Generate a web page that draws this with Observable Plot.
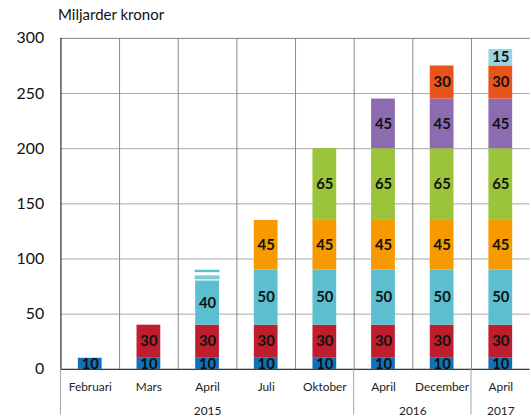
<!DOCTYPE html>
<html><head><meta charset="utf-8">
<script src="https://cdn.jsdelivr.net/npm/d3@7"></script>
<script src="https://cdn.jsdelivr.net/npm/@observablehq/plot@0.6"></script>
<style>
body{margin:0;background:#fff;font-family:Lato,sans-serif;}
#wrap{position:relative;width:531px;height:418px;overflow:hidden;background:#fff;}
#sub{position:absolute;left:58px;top:5px;font-size:15px;line-height:18px;color:#111;white-space:nowrap;}
#chart{position:absolute;left:0;top:28px;}
</style></head><body>
<div id="wrap"><div id="sub">Miljarder kronor</div><div id="chart"></div></div>
<script>
// categories
const months = ["Februari","Mars","April","Juli","Oktober","April","December","April"];
const years = ["2015","2016","2017"];
const yearFirst = [0,5,7];
const yearLast = [4,6,7];
// series (stacked from bottom)
const sBlue   = [10,10,10,10,10,10,10,10];
const sRed    = [0,30,30,30,30,30,30,30];
const sCyan   = [0,0,40,50,50,50,50,50];
const sOrange = [0,0,0,45,45,45,45,45];
const sGreen  = [0,0,0,0,65,65,65,65];
const sPurple = [0,0,0,0,0,45,45,45];
const sRedOr  = [0,0,0,0,0,0,30,30];
const sPale   = [0,0,0,0,0,0,0,15];
const seriesList = [sBlue,sRed,sCyan,sOrange,sGreen,sPurple,sRedOr,sPale];
const seriesColors = ["#1270b8","#be1e2d","#5bbfd0","#f79a00","#9bc43b","#8c6bb1","#e8541c","#9dd3df"];
// striped extension on April 2015
const stripeCat = [2,2];
const stripeLow = [81.1,87.6];
const stripeHigh = [84.7,89.8];
const stripeColors = ["#7ccbd8","#5bbfd0"];
const yTicks = [0,50,100,150,200,250,300];
const yGrid = [50,100,150,200,250];

const segs = [];
months.forEach((m,i)=>{
  let base = 0;
  seriesList.forEach((s,k)=>{
    const v = s[i];
    if (v>0){ segs.push({i, y1:base, y2:base+v, v, color:seriesColors[k]}); base += v; }
  });
});
const stripes = stripeCat.map((c,k)=>({i:c, y1:stripeLow[k], y2:stripeHigh[k], color:stripeColors[k]}));

const W = 536, H = 390;
const half = 0.2025;
const plot = Plot.plot({
  width: W, height: H,
  marginLeft: 61, marginRight: 1.4, marginTop: 10, marginBottom: 46,
  x: {type:"linear", domain:[0,8], axis:null},
  y: {domain:[0,300], axis:null},
  color: {type:"identity"},
  style: {fontFamily:"Lato, sans-serif", background:"white", color:"#111", overflow:"visible"},
  marks: [
    Plot.ruleY(yGrid, {stroke:"#a6a6a6"}),
    Plot.ruleY([300], {stroke:"#7f7f7f"}),
    Plot.ruleX(d3.range(1,8), {stroke:"#8a8a8a"}),
    Plot.rect(segs, {x1:d=>d.i+0.5-half, x2:d=>d.i+0.5+half, y1:"y1", y2:"y2", fill:"color"}),
    Plot.rect(stripes, {x1:d=>d.i+0.5-half-0.01, x2:d=>d.i+0.5+half+0.01, y1:"y1", y2:"y2", fill:"color"}),
    Plot.text(segs, {x:d=>d.i+0.5, y:d=>(d.y1+d.y2)/2, text:d=>String(d.v), fontWeight:"bold", fontSize:15, fill:"#111"}),
    Plot.ruleY([0], {stroke:"black"}),
    Plot.ruleX([0], {stroke:"black"}),
    Plot.axisY({ticks:yTicks, tickSize:0, tickPadding:17, fontSize:16, tickFormat:d=>String(d)}),
    Plot.text(months, {x:(d,i)=>i+0.5, y:0, dy:18, fontSize:12, fill:"#222"}),
    Plot.text(years, {x:(d,k)=>(yearFirst[k]+yearLast[k]+1)/2, y:0, dy:42, fontSize:12, fill:"#222"})
  ]
});
document.getElementById("chart").appendChild(plot);
// year separators below the axis
const xs = plot.scale("x"), ys = plot.scale("y");
const svg = d3.select(plot);
yearFirst.forEach(v=>{
  const px = xs.apply(v);
  svg.append("line").attr("x1",px).attr("x2",px).attr("y1",ys.apply(0)).attr("y2",H)
    .attr("stroke","#a0a0a0").attr("stroke-width",1);
});
</script>
</body></html>
